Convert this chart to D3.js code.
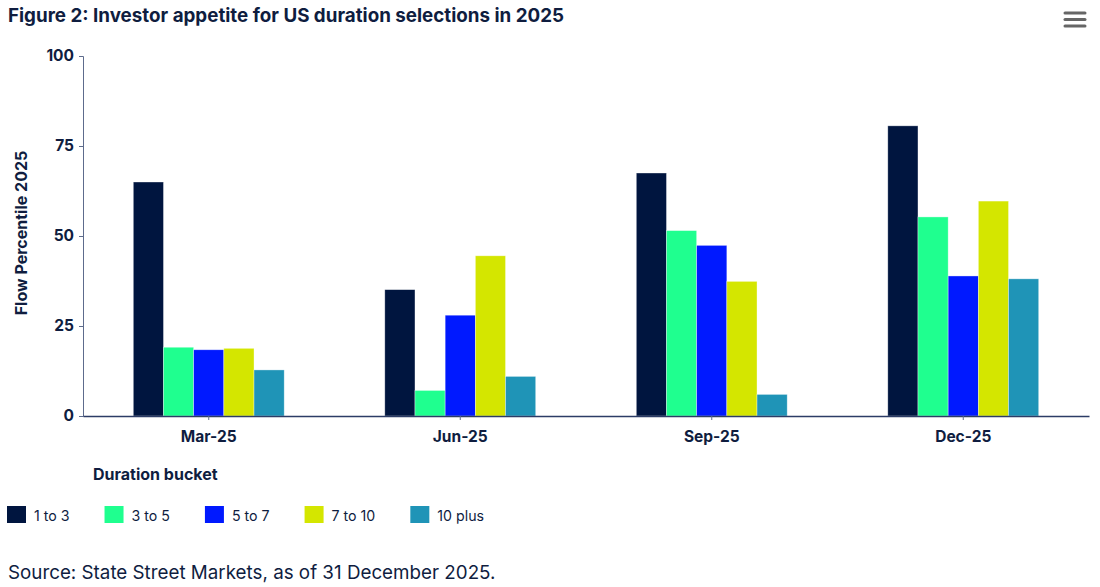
<!DOCTYPE html>
<html>
<head>
<meta charset="utf-8">
<script src="https://cdn.jsdelivr.net/npm/d3@7"></script>
<style>
  body { margin: 0; background: #fff; }
  text { font-family: Inter, "Noto Sans", sans-serif; }
</style>
</head>
<body>
<div id="container"></div>
<script>
/* DATA */
const quarters = ["Mar-25", "Jun-25", "Sep-25", "Dec-25"];
const buckets = ["1 to 3", "3 to 5", "5 to 7", "7 to 10", "10 plus"];
const oneToThree = [65.0, 35.1, 67.5, 80.6];
const threeToFive = [19.1, 7.1, 51.5, 55.3];
const fiveToSeven = [18.4, 28.0, 47.4, 38.9];
const sevenToTen = [18.8, 44.5, 37.4, 59.7];
const tenPlus = [12.8, 11.0, 6.0, 38.1];
const yTicks = [0, 25, 50, 75, 100];

const seriesValues = [oneToThree, threeToFive, fiveToSeven, sevenToTen, tenPlus];
const colors = ["#00153f", "#1fff8f", "#0019ff", "#d4e600", "#1f94b7"];

/* CONSTANTS */
const width = 1100, height = 587;
const margin = { top: 56, bottom: 171, left: 83, right: 11 };
const navy = "#0f1d3f";

const svg = d3.select("#container")
  .append("svg")
  .attr("width", width)
  .attr("height", height);

/* SCALES */
const xScale = d3.scaleBand()
  .domain(quarters)
  .range([margin.left, width - margin.right])
  .paddingInner(0.4)
  .paddingOuter(0.2);

const xSub = d3.scaleBand()
  .domain(buckets)
  .range([0, xScale.bandwidth()]);

const yScale = d3.scaleLinear()
  .domain([0, 100])
  .range([height - margin.bottom, margin.top]);

const colorScale = d3.scaleOrdinal().domain(buckets).range(colors);

// title
svg.append("text")
  .attr("x", 8)
  .attr("y", 22)
  .attr("fill", navy)
  .style("font-size", "18.8px")
  .style("font-weight", 700)
  .text("Figure 2: Investor appetite for US duration selections in 2025");

// menu icon
[13, 19.5, 26].forEach(y => {
  svg.append("line")
    .attr("x1", 1065).attr("x2", 1085)
    .attr("y1", y).attr("y2", y)
    .attr("stroke", "#666")
    .attr("stroke-width", 3)
    .attr("stroke-linecap", "round");
});

// bars
const rows = [];
quarters.forEach((q, i) => {
  buckets.forEach((b, j) => rows.push({ quarter: q, bucket: b, value: seriesValues[j][i] }));
});

svg.append("g")
  .selectAll("rect")
  .data(rows)
  .join("rect")
  .attr("x", d => xScale(d.quarter) + xSub(d.bucket))
  .attr("y", d => yScale(d.value))
  .attr("width", xSub.bandwidth())
  .attr("height", d => yScale(0) - yScale(d.value))
  .attr("fill", d => colorScale(d.bucket))
  .attr("stroke", "rgba(255,255,255,0.5)")
  .attr("stroke-width", 0.7);

// axes
const yAxis = d3.axisLeft(yScale).tickValues(yTicks).tickSize(4).tickPadding(5);
const gy = svg.append("g")
  .attr("transform", `translate(${margin.left},0)`)
  .call(yAxis);
gy.select(".domain").attr("stroke", "#5d6b8c").attr("stroke-width", 1);
gy.selectAll(".tick line").attr("stroke", "#5d6b8c");
gy.selectAll(".tick text")
  .attr("fill", navy)
  .style("font-size", "15.5px")
  .style("font-weight", 700)
  .style("font-family", "Inter, sans-serif");

const xAxis = d3.axisBottom(xScale).tickSize(4).tickPadding(11).tickSizeOuter(0);
const gx = svg.append("g")
  .attr("transform", `translate(0,${height - margin.bottom})`)
  .call(xAxis);
gx.select(".domain").attr("stroke", "#2c3c66").attr("stroke-width", 1.5);
gx.selectAll(".tick line").attr("stroke", "#5d6b8c");
gx.selectAll(".tick text")
  .attr("fill", navy)
  .style("font-size", "15.5px")
  .style("font-weight", 700)
  .style("font-family", "Inter, sans-serif");

// y label
svg.append("text")
  .attr("transform", `translate(27,${(yScale(0) + yScale(100)) / 2 - 3}) rotate(-90)`)
  .attr("text-anchor", "middle")
  .attr("fill", navy)
  .style("font-size", "16px")
  .style("font-weight", 700)
  .text("Flow Percentile 2025");

// legend
svg.append("text")
  .attr("x", 93)
  .attr("y", 480)
  .attr("fill", navy)
  .style("font-size", "16px")
  .style("font-weight", 700)
  .text("Duration bucket");

let lx = 7;
buckets.forEach(b => {
  const g = svg.append("g").attr("transform", `translate(${lx},506)`);
  g.append("rect")
    .attr("width", 19).attr("height", 17)
    .attr("fill", colorScale(b));
  const t = g.append("text")
    .attr("x", 27).attr("y", 14.5)
    .attr("fill", navy)
    .style("font-size", "14.2px")
    .text(b);
  lx += 27 + t.node().getComputedTextLength() + 35;
});

// source
svg.append("text")
  .attr("x", 8)
  .attr("y", 579)
  .attr("fill", navy)
  .style("font-size", "18.8px")
  .text("Source: State Street Markets, as of 31 December 2025.");
</script>
</body>
</html>
